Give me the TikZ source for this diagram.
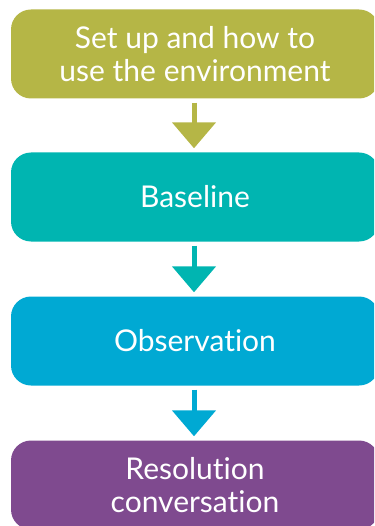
\documentclass[tikz,border=0pt]{standalone}
\usepackage{fontspec}
\setmainfont{Lato}[Ligatures=NoCommon]
\usetikzlibrary{arrows.meta}
\definecolor{olive}{RGB}{181,182,70}
\definecolor{tealc}{RGB}{0,181,177}
\definecolor{bluec}{RGB}{0,169,211}
\definecolor{purplec}{RGB}{127,74,143}
\tikzset{
  stepbox/.style={rounded corners=20pt, minimum width=368pt, minimum height=89pt,
    text=white, align=center, inner sep=0pt,
    font=\fontsize{30}{33}\selectfont},
  flowarrow/.style={line width=5pt, shorten <=4pt, shorten >=4pt,
    -{Triangle[width=43pt,length=26pt]}}
}
\begin{document}
\begin{tikzpicture}[x=1pt,y=-1pt]
\useasboundingbox (0,0) rectangle (374,526);
\clip (0,0) rectangle (374,526);
\node[stepbox, fill=olive] (b1) at (195,54) {Set up and how to\\use the environment};
\node[stepbox, fill=tealc] (b2) at (195,197) {Baseline};
\node[stepbox, fill=bluec] (b3) at (195,341) {Observation};
\node[stepbox, fill=purplec] (b4) at (195,485) {Resolution\\conversation};
\draw[flowarrow, olive] ([xshift=-1pt]b1.south) -- ([xshift=-1pt]b2.north);
\draw[flowarrow, tealc] ([xshift=-1pt]b2.south) -- ([xshift=-1pt]b3.north);
\draw[flowarrow, bluec] ([xshift=-1pt]b3.south) -- ([xshift=-1pt]b4.north);
\end{tikzpicture}
\end{document}
